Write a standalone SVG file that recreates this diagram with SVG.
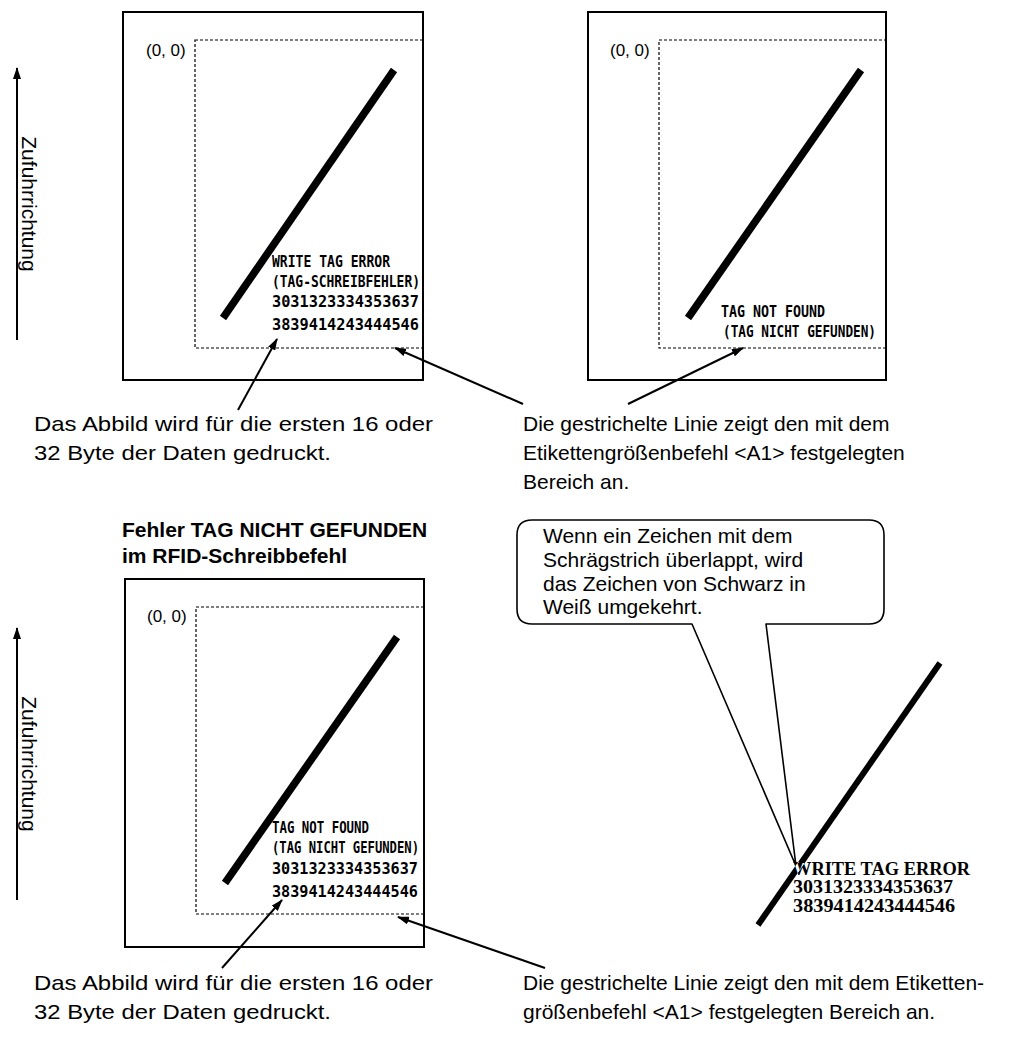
<svg xmlns="http://www.w3.org/2000/svg" width="1035" height="1038" viewBox="0 0 1035 1038">
<style>
.box{fill:none;stroke:#000;stroke-width:2}
.dash{fill:none;stroke:#000;stroke-width:1.2;stroke-dasharray:3 2}
.slash{stroke:#000;stroke-width:7.5;fill:none}
.lbl{font-family:"Liberation Sans",Arial,sans-serif;font-size:21px;fill:#000}
.hd{font-family:"Liberation Sans",Arial,sans-serif;font-size:21px;font-weight:bold;fill:#000}
.org{font-family:"Liberation Sans",Arial,sans-serif;font-size:17px;fill:#000}
.mono{font-family:"DejaVu Sans Mono","Liberation Mono",monospace;font-size:15px;font-weight:bold;fill:#000}
.serif{font-family:"Liberation Serif","Times New Roman",serif;font-size:18px;font-weight:bold;fill:#000}
.conn{stroke:#000;stroke-width:2;fill:none}
</style>
<defs>
<marker id="ah" viewBox="0 0 12 8" refX="11" refY="4" markerWidth="12" markerHeight="8" markerUnits="userSpaceOnUse" orient="auto">
<path d="M0,0 L12,4 L0,8 Z" fill="#000"/>
</marker>
<clipPath id="slashclip">
<polygon points="942.5,664.7 937.5,661.3 755.5,923.3 760.5,926.7"/>
</clipPath>
</defs>

<g id="feed-top">
<line class="conn" x1="17" y1="340" x2="17" y2="68" marker-end="url(#ah)"/>
<text class="lbl" text-anchor="middle" transform="translate(22,204) rotate(90)">Zufuhrrichtung</text>
</g>

<g id="label-top-left">
<rect class="box" x="123" y="12" width="300" height="368"/>
<rect class="dash" x="195" y="40" width="228" height="308"/>
<text class="org" x="146" y="56">(0, 0)</text>
<line class="slash" x1="394" y1="70" x2="223" y2="318"/>
<text class="mono" x="272" y="267" textLength="118" lengthAdjust="spacingAndGlyphs">WRITE TAG ERROR</text>
<text class="mono" x="272" y="287" textLength="148" lengthAdjust="spacingAndGlyphs">(TAG-SCHREIBFEHLER)</text>
<text class="mono" x="272" y="307" textLength="147" lengthAdjust="spacingAndGlyphs">3031323334353637</text>
<text class="mono" x="272" y="330" textLength="147" lengthAdjust="spacingAndGlyphs">3839414243444546</text>
</g>

<g id="label-top-right">
<rect class="box" x="588" y="12" width="298" height="368"/>
<rect class="dash" x="659" y="40" width="227" height="308"/>
<text class="org" x="610" y="56">(0, 0)</text>
<line class="slash" x1="861" y1="70" x2="688" y2="318"/>
<text class="mono" x="721" y="317" textLength="104" lengthAdjust="spacingAndGlyphs">TAG NOT FOUND</text>
<text class="mono" x="723" y="337" textLength="153" lengthAdjust="spacingAndGlyphs">(TAG NICHT GEFUNDEN)</text>
</g>

<g id="note-top-left">
<text class="lbl" x="34" y="431" textLength="399" lengthAdjust="spacingAndGlyphs">Das Abbild wird für die ersten 16 oder</text>
<text class="lbl" x="34" y="460" textLength="297" lengthAdjust="spacingAndGlyphs">32 Byte der Daten gedruckt.</text>
</g>

<g id="note-top-right">
<text class="lbl" x="523" y="431">Die gestrichelte Linie zeigt den mit dem</text>
<text class="lbl" x="523" y="460">Etikettengrößenbefehl &lt;A1&gt; festgelegten</text>
<text class="lbl" x="523" y="489">Bereich an.</text>
</g>

<g id="heading">
<text class="hd" x="122" y="537">Fehler TAG NICHT GEFUNDEN</text>
<text class="hd" x="122" y="563">im RFID-Schreibbefehl</text>
</g>

<g id="callout">
<path d="M532,520 H869 Q884,520 884,535 V609 Q884,624 869,624 H766 L796,866 L692,624 H532 Q517,624 517,609 V535 Q517,520 532,520 Z" fill="#fff" stroke="#000" stroke-width="1.6" stroke-linejoin="round"/>
<text class="lbl" x="543" y="543">Wenn ein Zeichen mit dem</text>
<text class="lbl" x="543" y="567">Schrägstrich überlappt, wird</text>
<text class="lbl" x="543" y="591">das Zeichen von Schwarz in</text>
<text class="lbl" x="543" y="614">Weiß umgekehrt.</text>
</g>

<g id="example-inverted">
<text class="serif" x="793" y="875" textLength="177" lengthAdjust="spacingAndGlyphs">WRITE TAG ERROR</text>
<text class="serif" x="793" y="893" textLength="160" lengthAdjust="spacingAndGlyphs">3031323334353637</text>
<text class="serif" x="793" y="912" textLength="162" lengthAdjust="spacingAndGlyphs">3839414243444546</text>
<line x1="940" y1="663" x2="758" y2="925" stroke="#000" stroke-width="6"/>
<g clip-path="url(#slashclip)">
<text class="serif" x="793" y="875" textLength="177" lengthAdjust="spacingAndGlyphs" style="fill:#fff">WRITE TAG ERROR</text>
<text class="serif" x="793" y="893" textLength="160" lengthAdjust="spacingAndGlyphs" style="fill:#fff">3031323334353637</text>
<text class="serif" x="793" y="912" textLength="162" lengthAdjust="spacingAndGlyphs" style="fill:#fff">3839414243444546</text>
</g>
</g>

<g id="feed-bottom">
<line class="conn" x1="17" y1="900" x2="17" y2="628" marker-end="url(#ah)"/>
<text class="lbl" text-anchor="middle" transform="translate(22,764) rotate(90)">Zufuhrrichtung</text>
</g>

<g id="label-bottom-left">
<rect class="box" x="125" y="579" width="299" height="368"/>
<rect class="dash" x="196" y="607" width="228" height="307"/>
<text class="org" x="147" y="622">(0, 0)</text>
<line class="slash" x1="397" y1="637" x2="225" y2="883"/>
<text class="mono" x="272" y="833" textLength="97" lengthAdjust="spacingAndGlyphs">TAG NOT FOUND</text>
<text class="mono" x="272" y="853" textLength="147" lengthAdjust="spacingAndGlyphs">(TAG NICHT GEFUNDEN)</text>
<text class="mono" x="272" y="874" textLength="146" lengthAdjust="spacingAndGlyphs">3031323334353637</text>
<text class="mono" x="272" y="897" textLength="146" lengthAdjust="spacingAndGlyphs">3839414243444546</text>
</g>

<g id="note-bottom-left">
<text class="lbl" x="34" y="990" textLength="399" lengthAdjust="spacingAndGlyphs">Das Abbild wird für die ersten 16 oder</text>
<text class="lbl" x="34" y="1019" textLength="297" lengthAdjust="spacingAndGlyphs">32 Byte der Daten gedruckt.</text>
</g>

<g id="note-bottom-right">
<text class="lbl" x="523" y="990">Die gestrichelte Linie zeigt den mit dem Etiketten-</text>
<text class="lbl" x="523" y="1019">größenbefehl &lt;A1&gt; festgelegten Bereich an.</text>
</g>

<g id="connectors">
<line class="conn" x1="238" y1="410" x2="277" y2="339" marker-end="url(#ah)"/>
<line class="conn" x1="523" y1="404" x2="395" y2="348" marker-end="url(#ah)"/>
<line class="conn" x1="628" y1="404" x2="743" y2="348" marker-end="url(#ah)"/>
<line class="conn" x1="222" y1="968" x2="282" y2="900" marker-end="url(#ah)"/>
<line class="conn" x1="545" y1="968" x2="398" y2="917" marker-end="url(#ah)"/>
</g>
</svg>
